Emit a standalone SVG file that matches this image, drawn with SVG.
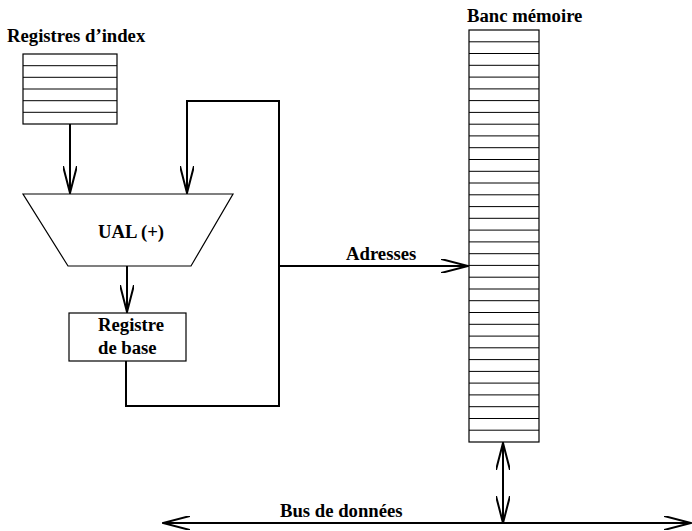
<svg xmlns="http://www.w3.org/2000/svg" width="692" height="531" viewBox="0 0 692 531">
<style>
.lbl{font-family:"Liberation Serif","Times New Roman",serif;font-weight:bold;font-size:18.7px;fill:#000}
.box{fill:#fff;stroke:#000;stroke-width:1.2}
.row{stroke:#000;stroke-width:1}
.wire{fill:none;stroke:#000;stroke-width:2}
</style>
<defs>
<marker id="ah" viewBox="0 0 28 14" refX="27" refY="7" markerWidth="28" markerHeight="14" markerUnits="userSpaceOnUse" orient="auto-start-reverse">
<path d="M0,0 L27,7 L0,14" fill="none" stroke="#000" stroke-width="2"/>
</marker>
</defs>
<rect width="692" height="531" fill="#fff"/>

<g id="connectors">
<path class="wire" d="M70,124 V193" marker-end="url(#ah)"/>
<path class="wire" d="M127,266 V312" marker-end="url(#ah)"/>
<path class="wire" d="M126,361 V406 H279 V101 H187 V193" marker-end="url(#ah)"/>
<path class="wire" d="M279,266 H468" marker-end="url(#ah)"/>
<path class="wire" d="M503,443 V523" marker-start="url(#ah)" marker-end="url(#ah)"/>
<path class="wire" d="M163,523 H691" marker-start="url(#ah)" marker-end="url(#ah)"/>
<text class="lbl" x="346" y="260">Adresses</text>
<text class="lbl" x="280" y="517">Bus de données</text>
</g>

<g id="registres-index">
<text class="lbl" x="7" y="42">Registres d’index</text>
<rect class="box" x="23" y="54" width="94" height="70"/>
<path class="row" d="M23,65.7 H117 M23,77.3 H117 M23,89 H117 M23,100.7 H117 M23,112.3 H117"/>
</g>

<g id="ual">
<polygon class="box" points="23,194 233,194 191,266 68,266"/>
<text class="lbl" x="131" y="238" text-anchor="middle">UAL (+)</text>
</g>

<g id="registre-base">
<rect class="box" x="69" y="313" width="117" height="48"/>
<text class="lbl" x="98" y="331">Registre</text>
<text class="lbl" x="98" y="354">de base</text>
</g>

<g id="banc-memoire">
<text class="lbl" x="467" y="22">Banc mémoire</text>
<rect class="box" x="469" y="30" width="70" height="412"/>
<path class="row" d="M469,41.8 H539 M469,53.5 H539 M469,65.3 H539 M469,77.1 H539 M469,88.9 H539 M469,100.6 H539 M469,112.4 H539 M469,124.2 H539 M469,135.9 H539 M469,147.7 H539 M469,159.5 H539 M469,171.3 H539 M469,183 H539 M469,194.8 H539 M469,206.6 H539 M469,218.3 H539 M469,230.1 H539 M469,241.9 H539 M469,253.7 H539 M469,265.4 H539 M469,277.2 H539 M469,289 H539 M469,300.7 H539 M469,312.5 H539 M469,324.3 H539 M469,336.1 H539 M469,347.8 H539 M469,359.6 H539 M469,371.4 H539 M469,383.1 H539 M469,394.9 H539 M469,406.7 H539 M469,418.5 H539 M469,430.2 H539"/>
</g>
</svg>
